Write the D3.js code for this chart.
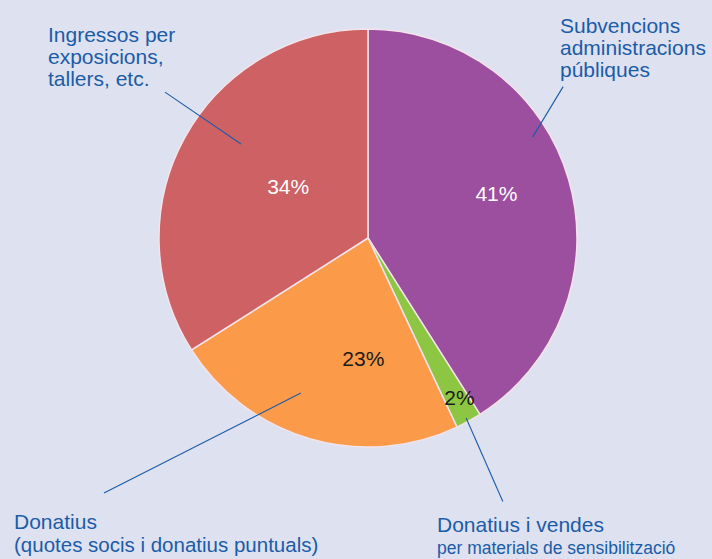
<!DOCTYPE html>
<html>
<head>
<meta charset="utf-8">
<script src="https://cdn.jsdelivr.net/npm/d3@7"></script>
<style>
  body { margin: 0; background: #dee1ef; }
  svg { display: block; font-family: "Liberation Sans", Arial, sans-serif; }
</style>
</head>
<body>
<div id="pie-chart"></div>
<script>
// Data
const categories = ["Subvencions administracions públiques", "Donatius i vendes", "Donatius", "Ingressos per exposicions"];
const values = [41, 2, 23, 34];
const valueLabels = ["41%", "2%", "23%", "34%"];

const COLORS = ["#9d4f9f", "#8cc642", "#fb9b49", "#ce6163"];
const LABEL_COLORS = ["#ffffff", "#1a1a1a", "#1a1a1a", "#ffffff"];
const TEXT_BLUE = "#1b5ca8";

const WIDTH = 712, HEIGHT = 559;
const CX = 368, CY = 238, R = 209;

// label spot in each slice: [angle offset deg, radius]
const LABEL_POS = [[-3, 136], [-1, 184], [-14, 121], [4, 95]];

// leader lines, polar around pie centre: [angle deg, radius] inner -> outer
const LEADERS = [
  [[58.5, 193], [52.2, 247]],
  [[151.4, 205], [152.9, 296]],
  [[203.4, 169], [226, 367]],
  [[306.5, 158], [305.7, 250]]
];

// category text blocks
const TEXT_BLOCKS = [
  { x: 560, y: 33, gap: 22, lines: [["Subvencions", 21], ["administracions", 21], ["públiques", 21]] },
  { x: 437, y: 532, gap: 22, lines: [["Donatius i vendes", 21], ["per materials de sensibilització", 17.5]] },
  { x: 14, y: 529, gap: 23, lines: [["Donatius", 21], ["(quotes socis i donatius puntuals)", 20.5]] },
  { x: 48, y: 42, gap: 22, lines: [["Ingressos per", 21], ["exposicions,", 21], ["tallers, etc.", 21]] }
];

const svg = d3.select("#pie-chart")
  .append("svg")
  .attr("width", WIDTH)
  .attr("height", HEIGHT)
  .attr("viewBox", `0 0 ${WIDTH} ${HEIGHT}`);

svg.append("rect")
  .attr("width", WIDTH)
  .attr("height", HEIGHT)
  .attr("fill", "#dee1ef");

const g = svg.append("g").attr("transform", `translate(${CX},${CY})`);

const pie = d3.pie().sort(null).value(d => d.value);
const data = pie(values.map((v, i) => ({ value: v, i: i })));

const arc = d3.arc().innerRadius(0).outerRadius(R);

// Slices
g.selectAll("path.slice")
  .data(data)
  .join("path")
  .attr("class", "slice")
  .attr("d", arc)
  .attr("fill", d => COLORS[d.data.i])
  .attr("stroke", "#f3e3ea")
  .attr("stroke-width", 1.5);

// Percentage labels
const rad = deg => deg * Math.PI / 180;
g.selectAll("text.pct")
  .data(data)
  .join("text")
  .attr("class", "pct")
  .attr("transform", d => {
    const a = (d.startAngle + d.endAngle) / 2 + rad(LABEL_POS[d.data.i][0]);
    const p = d3.pointRadial(a, LABEL_POS[d.data.i][1]);
    return `translate(${p[0]},${p[1]})`;
  })
  .attr("text-anchor", "middle")
  .attr("dy", "0.35em")
  .style("font-size", "21px")
  .style("fill", d => LABEL_COLORS[d.data.i])
  .text(d => valueLabels[d.data.i]);

// Leader lines
g.selectAll("line.leader")
  .data(LEADERS)
  .join("line")
  .attr("class", "leader")
  .attr("x1", d => d3.pointRadial(rad(d[0][0]), d[0][1])[0])
  .attr("y1", d => d3.pointRadial(rad(d[0][0]), d[0][1])[1])
  .attr("x2", d => d3.pointRadial(rad(d[1][0]), d[1][1])[0])
  .attr("y2", d => d3.pointRadial(rad(d[1][0]), d[1][1])[1])
  .attr("stroke", TEXT_BLUE)
  .attr("stroke-width", 1.1);

// Category texts
TEXT_BLOCKS.forEach(b => {
  const t = svg.append("text")
    .attr("x", b.x)
    .attr("y", b.y)
    .style("fill", TEXT_BLUE);
  b.lines.forEach((l, j) => {
    t.append("tspan")
      .attr("x", b.x)
      .attr("dy", j === 0 ? 0 : b.gap)
      .style("font-size", l[1] + "px")
      .text(l[0]);
  });
});
</script>
</body>
</html>
